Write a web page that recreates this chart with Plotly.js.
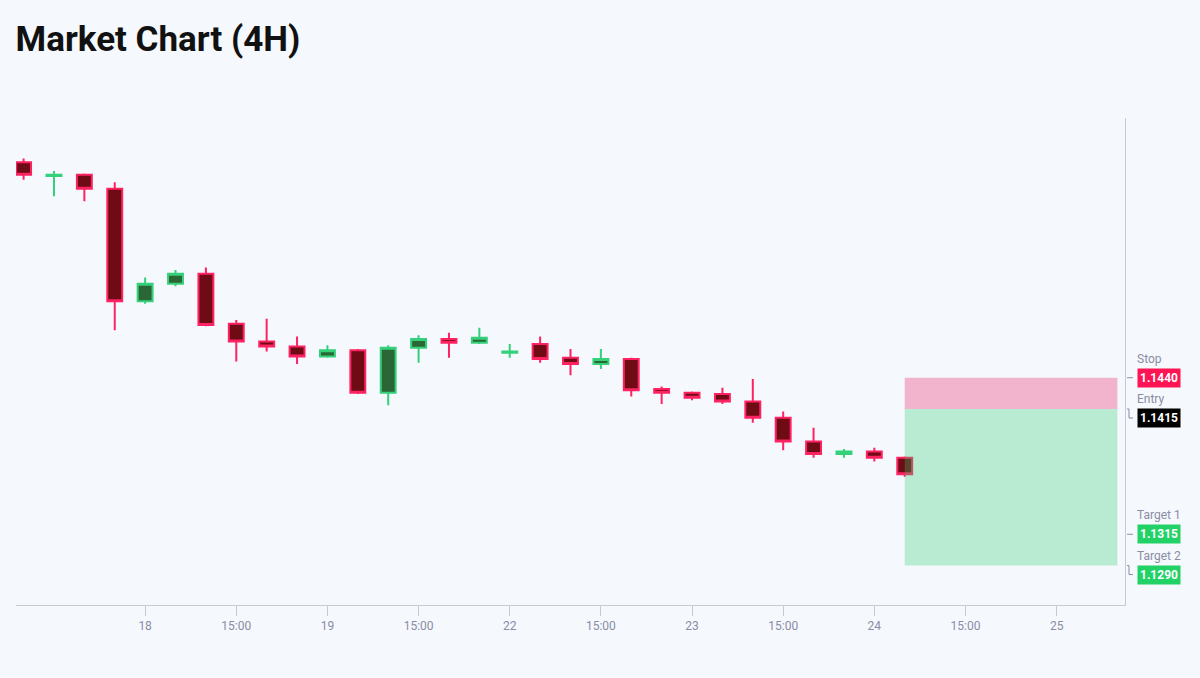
<!DOCTYPE html>
<html>
<head>
<meta charset="utf-8">
<script src="https://cdn.plot.ly/plotly-3.0.1.min.js"></script>
<style>
  html, body { margin: 0; padding: 0; background: #f5f8fc; }
  #market-plot { width: 1200px; height: 678px; }
</style>
</head>
<body>
<div id="market-plot"></div>
<script>
// Candle slot (4H bars, weekend skipped)
var candleIdx = [0, 1, 2, 3, 4, 5, 6, 7, 8, 9,
                 10, 11, 12, 13, 14, 15, 16, 17, 18, 19,
                 20, 21, 22, 23, 24, 25, 26, 27, 28, 29];

var openPrice  = [1.1612, 1.1601, 1.1602, 1.1591, 1.1501, 1.1515, 1.1523, 1.1483, 1.1469, 1.1465,
                  1.1457, 1.1462, 1.1428, 1.1464, 1.1471, 1.1468, 1.1460, 1.1467, 1.1456, 1.1451,
                  1.1455, 1.1431, 1.1428, 1.1427, 1.1421, 1.1408, 1.1389, 1.1379, 1.1381, 1.1376];
var highPrice  = [1.1615, 1.1605, 1.1603, 1.1596, 1.1520, 1.1526, 1.1528, 1.1486, 1.1487, 1.1473,
                  1.1466, 1.1463, 1.1466, 1.1474, 1.1476, 1.1480, 1.1467, 1.1473, 1.1463, 1.1463,
                  1.1456, 1.1433, 1.1429, 1.1432, 1.1439, 1.1413, 1.1400, 1.1383, 1.1384, 1.1377];
var lowPrice   = [1.1598, 1.1585, 1.1581, 1.1478, 1.1499, 1.1513, 1.1481, 1.1453, 1.1461, 1.1451,
                  1.1456, 1.1427, 1.1418, 1.1452, 1.1456, 1.1467, 1.1456, 1.1452, 1.1442, 1.1447,
                  1.1425, 1.1419, 1.1422, 1.1419, 1.1404, 1.1382, 1.1376, 1.1376, 1.1373, 1.1361];
var closePrice = [1.1602, 1.1602, 1.1591, 1.1501, 1.1515, 1.1523, 1.1482, 1.1469, 1.1465, 1.1457,
                  1.1462, 1.1428, 1.1464, 1.1471, 1.1468, 1.1472, 1.1461, 1.1455, 1.1451, 1.1455,
                  1.1430, 1.1428, 1.1424, 1.1421, 1.1408, 1.1389, 1.1379, 1.1381, 1.1376, 1.1363];

var tickPos  = [4, 7, 10, 13, 16, 19, 22, 25, 28, 31, 34];
var tickText = ['18', '15:00', '19', '15:00', '22', '15:00', '23', '15:00', '24', '15:00', '25'];

// Trade levels
var levelNames  = ['Stop', 'Entry', 'Target 1', 'Target 2'];
var levelPrices = [1.1440, 1.1415, 1.1315, 1.1290];
var levelColors = ['#ff1454', '#000000', '#22d267', '#22d267'];
var levelShift  = [0, -9, 0, -9];     // px the label is pushed down so they don't overlap

var zoneStart = 29;
var zoneEnd = 36;

function init_market_plot(){

    var candles = {
        x: candleIdx,
        open: openPrice,
        high: highPrice,
        low: lowPrice,
        close: closePrice,
        type: 'candlestick',
        name: 'EURUSD',
        increasing: {
            line: { color: '#35d07a', width: 2 },
            fillcolor: '#2b6636'
        },
        decreasing: {
            line: { color: '#ff2262', width: 2 },
            fillcolor: '#6e0b14'
        },
        hoverinfo: 'skip',
        showlegend: false
    };

    var shapes = [
        {   // risk zone
            type: 'rect', xref: 'x', yref: 'y', layer: 'above',
            x0: zoneStart, x1: zoneEnd, y0: levelPrices[1], y1: levelPrices[0],
            fillcolor: 'rgba(236, 24, 96, 0.3)', line: { width: 0 }
        },
        {   // reward zone
            type: 'rect', xref: 'x', yref: 'y', layer: 'above',
            x0: zoneStart, x1: zoneEnd, y0: levelPrices[3], y1: levelPrices[1],
            fillcolor: 'rgba(46, 204, 113, 0.3)', line: { width: 0 }
        }
    ];

    var annotations = [];

    for(var i = 0; i < levelNames.length; i++)
    {
        var s = levelShift[i];
        // little connector from the axis to the price box
        shapes.push({
            type: 'path', xref: 'paper', yref: 'y',
            xsizemode: 'pixel', ysizemode: 'pixel',
            xanchor: 1, yanchor: levelPrices[i],
            path: s == 0 ? 'M2,0H8' : 'M2,0H4V' + s + 'H8',
            line: { color: '#8a8ca6', width: 1 }
        });
        annotations.push({
            xref: 'paper', yref: 'y', x: 1, y: levelPrices[i],
            xanchor: 'left', yanchor: 'middle', xshift: 12, yshift: s,
            text: '<b>' + levelPrices[i].toFixed(4) + '</b>',
            showarrow: false,
            bgcolor: levelColors[i],
            borderpad: 2,
            font: { family: 'Roboto', size: 12, color: '#ffffff' }
        });
        annotations.push({
            xref: 'paper', yref: 'y', x: 1, y: levelPrices[i],
            xanchor: 'left', yanchor: 'middle', xshift: 10, yshift: s + 19,
            text: levelNames[i],
            showarrow: false,
            font: { family: 'Roboto', size: 12, color: '#8a8ca6' }
        });
    }

    var layout = {
        width: 1200,
        height: 678,
        paper_bgcolor: '#f5f8fc',
        plot_bgcolor: '#f5f8fc',
        margin: { l: 16, r: 75, t: 118, b: 73 },
        showlegend: false,
        title: {
            text: '<b>Market Chart (4H)</b>',
            xref: 'container', yref: 'container',
            x: 0.013, xanchor: 'left',
            y: 0.943, yanchor: 'middle',
            font: { family: 'Roboto', size: 35, color: '#111111' }
        },
        xaxis: {
            range: [-0.25, 36.25],
            rangeslider: { visible: false },
            showgrid: false,
            zeroline: false,
            showline: true,
            linecolor: '#c7cad2',
            ticks: 'outside',
            ticklen: 10,
            tickcolor: '#c7cad2',
            tickvals: tickPos,
            ticktext: tickText,
            tickfont: { family: 'Roboto', size: 12, color: '#8a8ca6' },
            fixedrange: true
        },
        yaxis: {
            side: 'right',
            range: [1.12585, 1.16474],
            showgrid: false,
            zeroline: false,
            showline: true,
            linecolor: '#c7cad2',
            showticklabels: false,
            ticks: '',
            fixedrange: true
        },
        shapes: shapes,
        annotations: annotations
    };

    var additional_param = {
        displayModeBar: false,          // No toolbar in the picture
        staticPlot: true
    };

    Plotly.newPlot('market-plot', [candles], layout, additional_param);
};

init_market_plot();
</script>
</body>
</html>
